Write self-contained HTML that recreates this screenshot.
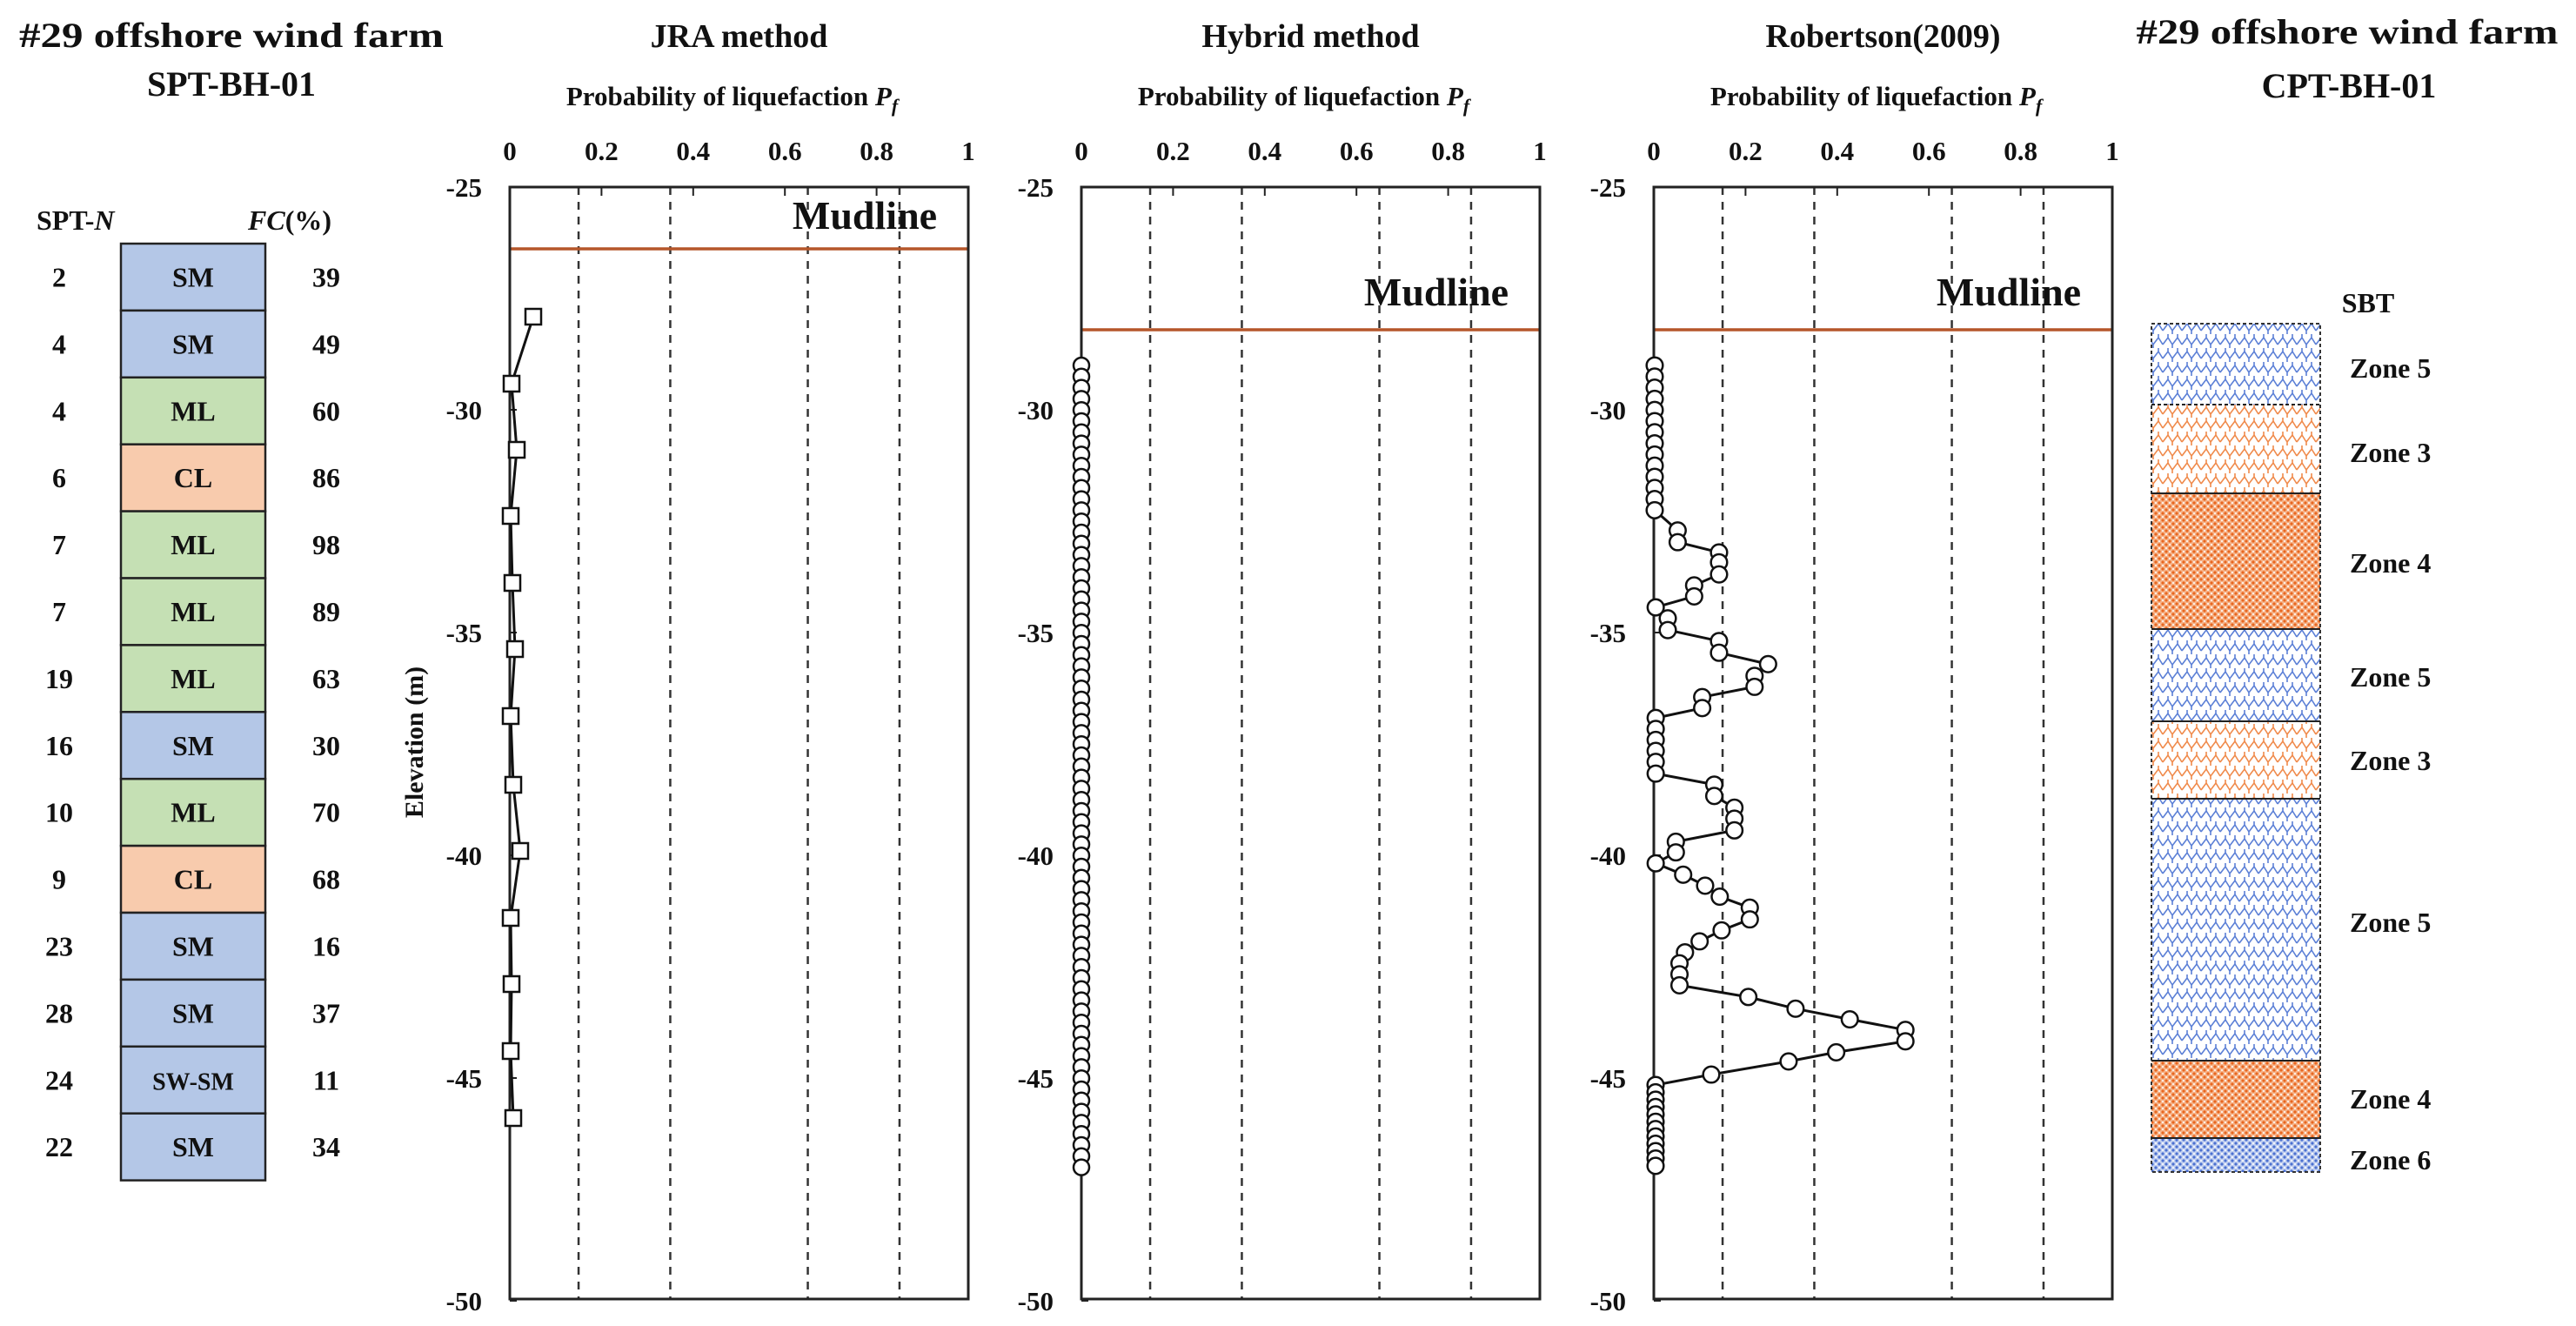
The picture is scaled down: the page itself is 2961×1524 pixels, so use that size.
<!DOCTYPE html>
<html><head><meta charset="utf-8">
<style>
html,body{margin:0;padding:0;background:#fff;}
svg{display:block;}
text{font-family:"Liberation Serif",serif;font-weight:bold;fill:#111;}
</style></head>
<body>
<svg id="s" width="2961" height="1524" viewBox="0 0 2961 1524" xmlns="http://www.w3.org/2000/svg">
<defs>
<pattern id="z5" width="22" height="16" patternUnits="userSpaceOnUse">
<rect width="22" height="16" fill="#fff"/>
<path d="M0 12 L6 4 L11 12 L17 4 L22 12 M6 4 L6 0 M17 4 L17 0 M11 12 L11 16" stroke="#5b7fd6" stroke-width="1.6" fill="none"/>
</pattern>
<pattern id="z3" width="22" height="16" patternUnits="userSpaceOnUse">
<rect width="22" height="16" fill="#fff"/>
<path d="M0 12 L6 4 L11 12 L17 4 L22 12 M6 4 L6 0 M17 4 L17 0 M11 12 L11 16" stroke="#f08a4b" stroke-width="1.6" fill="none"/>
</pattern>
<pattern id="z4" width="8" height="8" patternUnits="userSpaceOnUse">
<rect width="8" height="8" fill="#f6b48a"/>
<circle cx="2" cy="2" r="1.6" fill="#e8651e"/><circle cx="6" cy="6" r="1.6" fill="#e8651e"/>
<circle cx="6" cy="2" r="1" fill="#fff"/><circle cx="2" cy="6" r="1" fill="#fff"/>
</pattern>
<pattern id="z6" width="8" height="8" patternUnits="userSpaceOnUse">
<rect width="8" height="8" fill="#c2d0f0"/>
<circle cx="2" cy="2" r="1.6" fill="#4a6fd0"/><circle cx="6" cy="6" r="1.6" fill="#4a6fd0"/>
<circle cx="6" cy="2" r="1" fill="#fff"/><circle cx="2" cy="6" r="1" fill="#fff"/>
</pattern>
</defs>

<!-- Left titles -->
<text x="266" y="54" font-size="40" text-anchor="middle" textLength="488" lengthAdjust="spacingAndGlyphs">#29 offshore wind farm</text>
<text x="266" y="110" font-size="40" text-anchor="middle">SPT-BH-01</text>
<text x="42" y="264" font-size="32">SPT-<tspan font-style="italic">N</tspan></text>
<text x="285" y="264" font-size="32"><tspan font-style="italic">FC</tspan>(%)</text>
<rect x="406" y="230" width="30" height="50" fill="#fff"/>

<g id="table"></g>

<!-- Right titles -->
<text x="2698" y="50" font-size="40" text-anchor="middle" textLength="485" lengthAdjust="spacingAndGlyphs">#29 offshore wind farm</text>
<text x="2700" y="112" font-size="40" text-anchor="middle">CPT-BH-01</text>
<text x="2722" y="359" font-size="32" text-anchor="middle">SBT</text>

<!-- SBT column -->
<rect x="2473" y="372" width="194" height="93" fill="url(#z5)"/>
<rect x="2473" y="465" width="194" height="102" fill="url(#z3)"/>
<rect x="2473" y="567" width="194" height="156" fill="url(#z4)"/>
<rect x="2473" y="723" width="194" height="106" fill="url(#z5)"/>
<rect x="2473" y="829" width="194" height="89" fill="url(#z3)"/>
<rect x="2473" y="918" width="194" height="301" fill="url(#z5)"/>
<rect x="2473" y="1219" width="194" height="89" fill="url(#z4)"/>
<rect x="2473" y="1308" width="194" height="39" fill="url(#z6)"/>
<rect x="2473" y="372" width="194" height="975" fill="none" stroke="#333" stroke-width="2" stroke-dasharray="4 3"/>
<g stroke="#222" stroke-width="2">
<line x1="2473" y1="567" x2="2667" y2="567"/><line x1="2473" y1="723" x2="2667" y2="723"/>
<line x1="2473" y1="829" x2="2667" y2="829"/><line x1="2473" y1="918" x2="2667" y2="918"/>
<line x1="2473" y1="1219" x2="2667" y2="1219"/><line x1="2473" y1="1308" x2="2667" y2="1308"/>
</g>
<line x1="2473" y1="465" x2="2667" y2="465" stroke="#222" stroke-width="2" stroke-dasharray="4 3"/>
<g font-size="32">
<text x="2701" y="434">Zone  5</text>
<text x="2701" y="531">Zone  3</text>
<text x="2701" y="658">Zone  4</text>
<text x="2701" y="789">Zone  5</text>
<text x="2701" y="885">Zone  3</text>
<text x="2701" y="1071">Zone  5</text>
<text x="2701" y="1274">Zone  4</text>
<text x="2701" y="1344">Zone  6</text>
</g>

<text transform="translate(486,853) rotate(-90)" font-size="30" text-anchor="middle">Elevation (m)</text>

<g id="plots"></g>
</svg>
<script>
var NS="http://www.w3.org/2000/svg";
function el(p,t,a,txt){var e=document.createElementNS(NS,t);for(var k in a)e.setAttribute(k,a[k]);if(txt!==undefined)e.textContent=txt;p.appendChild(e);return e;}
// table
var tb=document.getElementById("table");
var rows=[[2,"SM",39],[4,"SM",49],[4,"ML",60],[6,"CL",86],[7,"ML",98],[7,"ML",89],[19,"ML",63],[16,"SM",30],[10,"ML",70],[9,"CL",68],[23,"SM",16],[28,"SM",37],[24,"SW-SM",11],[22,"SM",34]];
var col={SM:"#b4c7e7","SW-SM":"#b4c7e7",ML:"#c5e0b4",CL:"#f8cbad"};
var top0=280,rh=76.9;
rows.forEach(function(r,i){
 var y=top0+i*rh;
 el(tb,"rect",{x:139,y:y,width:166,height:rh,fill:col[r[1]],stroke:"#222","stroke-width":2.5});
 var cy=y+rh/2+11;
 el(tb,"text",{x:68,y:cy,"font-size":32,"text-anchor":"middle"},r[0]);
 el(tb,"text",{x:222,y:cy,"font-size":r[1]=="SW-SM"?28:32,"text-anchor":"middle"},r[1]);
 el(tb,"text",{x:375,y:cy,"font-size":32,"text-anchor":"middle"},r[2]);
});
// plots
var pg=document.getElementById("plots");
var titles=["JRA method","Hybrid method","Robertson(2009)"];
var lefts=[586,1243,1901],W=527,T=215,B=1493,pm=51.2;
var mud=[286,379,379];
function Y(e){return T+(-25-e)*pm;}
lefts.forEach(function(L,i){
 var cx=L+W/2;
 el(pg,"text",{x:cx,y:54,"font-size":38,"text-anchor":"middle"},titles[i]);
 var t=el(pg,"text",{x:cx-8,y:121,"font-size":31,"text-anchor":"middle"});
 t.textContent="Probability  of liquefaction ";
 el(t,"tspan",{"font-style":"italic"},"P");
 el(t,"tspan",{"font-style":"italic","font-size":22,dy:8},"f");
 ["0","0.2","0.4","0.6","0.8","1"].forEach(function(s,k){el(pg,"text",{x:L+k*0.2*W,y:184,"font-size":31,"text-anchor":"middle"},s);});
 [-25,-30,-35,-40,-45,-50].forEach(function(v){el(pg,"text",{x:L-32,y:Y(v)+11,"font-size":31,"text-anchor":"end"},String(v));
   el(pg,"line",{x1:L,y1:Y(v),x2:L+8,y2:Y(v),stroke:"#222","stroke-width":2});});
 [0.2,0.4,0.6,0.8].forEach(function(v){el(pg,"line",{x1:L+v*W,y1:T,x2:L+v*W,y2:T+10,stroke:"#222","stroke-width":2});});
 [0.15,0.35,0.65,0.85].forEach(function(v){el(pg,"line",{x1:L+v*W,y1:T,x2:L+v*W,y2:B,stroke:"#333","stroke-width":2.5,"stroke-dasharray":"9 8"});});
 el(pg,"line",{x1:L,y1:mud[i],x2:L+W,y2:mud[i],stroke:"#b5562a","stroke-width":3.5});
 el(pg,"rect",{x:L,y:T,width:W,height:B-T,fill:"none",stroke:"#222","stroke-width":3});
 el(pg,"text",{x:L+408,y:mud[i]-(i==0?23:28),"font-size":46,"text-anchor":"middle"},"Mudline");
});
// JRA squares
var jra=[[613,364],[588,441],[594,517],[587,593],[589,670],[592,746],[587,823],[590,902],[598,978],[587,1055],[588,1131],[587,1208],[590,1285]];
el(pg,"polyline",{points:jra.map(function(p){return p.join(",")}).join(" "),fill:"none",stroke:"#111","stroke-width":3});
jra.forEach(function(p){el(pg,"rect",{x:p[0]-9,y:p[1]-9,width:18,height:18,fill:"#fff",stroke:"#111","stroke-width":2.5});});
// Hybrid circles
var hx=1243;
el(pg,"line",{x1:hx,y1:420,x2:hx,y2:1342,stroke:"#111","stroke-width":3});
for(var y=420;y<=1343;y+=12.8){el(pg,"circle",{cx:hx,cy:y,r:9,fill:"#fff",stroke:"#111","stroke-width":2.5});}
// Robertson
var rp=[];
for(var k=0;k<14;k++)rp.push([1902,420+k*12.8]);
var z=[[115,118],[115,150],[228,178],[228,205],[228,238],[160,268],[160,298],[55,328],[88,358],[88,390],[228,420],[228,452],[362,483],[325,515],[325,545],[182,573],[182,603],[55,630],[55,660],[55,690],[55,720],[55,750],[55,782],[215,812],[215,843],[270,875],[270,905],[270,937],[110,968],[110,997],[55,1027],[130,1058],[190,1088],[230,1118],[312,1148],[312,1180],[235,1210],[175,1240],[135,1270],[120,1300],[120,1330],[120,1360],[308,1392],[437,1424],[585,1453],[737,1482],[737,1513],[548,1543],[418,1568]];
z.forEach(function(p){rp.push([1880+p[0]/2.376,560+p[1]/2.376]);});
rp.push([1967,1235]);
for(var k=0;k<12;k++)rp.push([1903,1247+k*8.45]);
el(pg,"polyline",{points:rp.map(function(p){return p[0].toFixed(1)+","+p[1].toFixed(1)}).join(" "),fill:"none",stroke:"#111","stroke-width":3});
rp.forEach(function(p){el(pg,"circle",{cx:p[0],cy:p[1],r:9.3,fill:"#fff",stroke:"#111","stroke-width":2.5});});
</script>
</body></html>
